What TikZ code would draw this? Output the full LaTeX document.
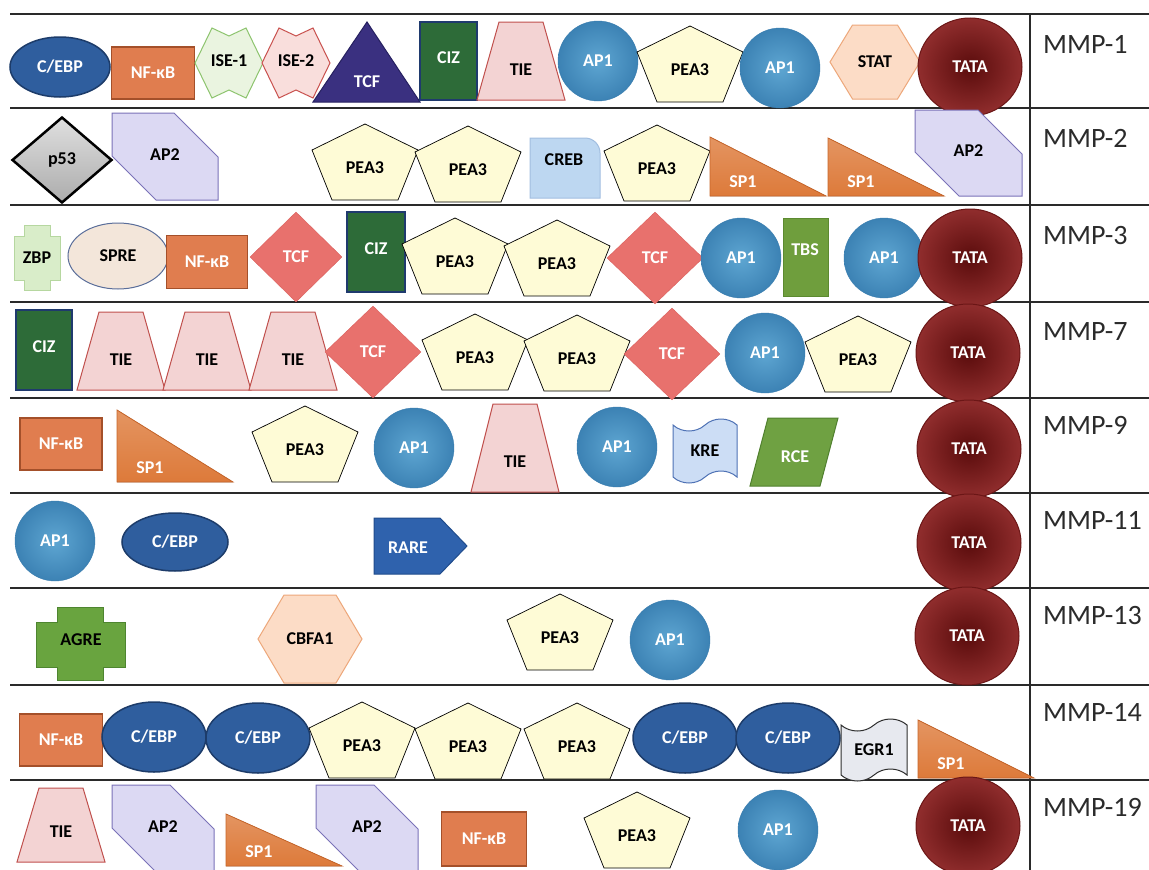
\documentclass[tikz,border=0pt]{standalone}
\usepackage{fontspec}
\setmainfont{Carlito}
\usetikzlibrary{shapes.geometric,shapes.symbols}

\definecolor{rowline}{HTML}{2A2A2A}
\definecolor{mmptext}{HTML}{2B2B2B}
\definecolor{cebpfill}{HTML}{2F5E9E}
\definecolor{cebpline}{HTML}{1D3C6A}
\definecolor{nfkbfill}{HTML}{E07D4F}
\definecolor{nfkbline}{HTML}{A4502A}
\definecolor{iseonefill}{HTML}{EAF4E0}
\definecolor{iseoneline}{HTML}{8DC46E}
\definecolor{isetwofill}{HTML}{F9DEDC}
\definecolor{isetwoline}{HTML}{C9514E}
\definecolor{trifill}{HTML}{3A3080}
\definecolor{triline}{HTML}{262060}
\definecolor{cizfill}{HTML}{2D6B38}
\definecolor{cizline}{HTML}{1F3A6E}
\definecolor{tiefill}{HTML}{F3D3D3}
\definecolor{tieline}{HTML}{C0504D}
\definecolor{aponein}{HTML}{5EA6D2}
\definecolor{aponeout}{HTML}{3C82B4}
\definecolor{aponeline}{HTML}{3A7DAF}
\definecolor{peafill}{HTML}{FEFBD6}
\definecolor{statfill}{HTML}{FCDCC6}
\definecolor{statline}{HTML}{EDA77A}
\definecolor{tatain}{HTML}{5A0C0C}
\definecolor{tataout}{HTML}{902D2D}
\definecolor{tataline}{HTML}{6B1616}
\definecolor{aptfill}{HTML}{DCD9F3}
\definecolor{aptline}{HTML}{7A72B8}
\definecolor{crebfill}{HTML}{BDD7F1}
\definecolor{crebline}{HTML}{A2BEE0}
\definecolor{spfill}{HTML}{DD7A3A}
\definecolor{spline}{HTML}{C8662A}
\definecolor{zbpfill}{HTML}{D9EDC9}
\definecolor{zbpline}{HTML}{B6D7A0}
\definecolor{sprefill}{HTML}{F3E6DA}
\definecolor{spreline}{HTML}{5A6E9A}
\definecolor{tcffill}{HTML}{E8716D}
\definecolor{tcfline}{HTML}{DA5F5C}
\definecolor{tbsfill}{HTML}{6F9E3D}
\definecolor{tbsline}{HTML}{5C8A30}
\definecolor{krefill}{HTML}{CCDDF5}
\definecolor{kreline}{HTML}{4F72B5}
\definecolor{rcefill}{HTML}{6FA142}
\definecolor{rceline}{HTML}{50802E}
\definecolor{rarefill}{HTML}{2F62AD}
\definecolor{rareline}{HTML}{204C8C}
\definecolor{agrefill}{HTML}{69A43F}
\definecolor{agreline}{HTML}{4E8530}
\definecolor{egrfill}{HTML}{E7E9EF}
\definecolor{egrline}{HTML}{2E2E2E}

\tikzset{
 lab/.style={font=\bfseries\fontsize{18}{20}\selectfont, inner sep=0pt},
 wlab/.style={lab, text=white},
 mmp/.style={font=\fontsize{28}{30}\selectfont, anchor=base west, inner sep=0pt, text=mmptext},
 row/.style={line width=1.5pt, draw=rowline},
 cebp/.style={ellipse, minimum width=104pt, minimum height=62pt, fill=cebpfill, draw=cebpline, line width=1.5pt, wlab},
 nfkb/.style={rectangle, minimum width=83pt, minimum height=52pt, fill=nfkbfill, draw=nfkbline, line width=1.5pt, wlab},
 apone/.style={circle, minimum size=80pt, draw=aponeline, inner color=aponein, outer color=aponeout, wlab},
 tata/.style={ellipse, minimum width=104pt, minimum height=98pt, draw=tataline, line width=1pt, inner color=tatain, outer color=tataout, wlab},
 tcf/.style={diamond, minimum width=96pt, minimum height=92pt, fill=tcffill, draw=tcfline, wlab},
 tcftri/.style={fill=trifill, draw=triline, line width=1pt},
 ciz/.style={fill=cizfill, draw=cizline, line width=1.5pt},
 tie/.style={fill=tiefill, draw=tieline, line width=1pt},
 pea/.style={fill=peafill, draw=black, line width=0.7pt},
 stat/.style={fill=statfill, draw=statline, line width=1pt},
 iseone/.style={fill=iseonefill, draw=iseoneline, line width=1pt},
 isetwo/.style={fill=isetwofill, draw=isetwoline, line width=1pt},
 apt/.style={fill=aptfill, draw=aptline, line width=1pt},
 spone/.style={top color=spfill!80!white, bottom color=spfill, draw=spline, line width=0.8pt},
 pfiftythree/.style={diamond, minimum width=100pt, minimum height=86pt, top color=gray!25, bottom color=gray!65, draw=black, line width=2.5pt, lab},
 creb/.style={fill=crebfill, draw=crebline, line width=1pt},
 zbp/.style={fill=zbpfill, draw=zbpline, line width=1pt},
 spre/.style={ellipse, minimum width=100pt, minimum height=66pt, fill=sprefill, draw=spreline, line width=1pt, lab},
 tbs/.style={fill=tbsfill, draw=tbsline, line width=1pt},
 kre/.style={tape, minimum width=64pt, minimum height=64pt, tape bend height=12pt, fill=krefill, draw=kreline, line width=1pt, lab},
 egr/.style={tape, minimum width=66pt, minimum height=62pt, tape bend height=12pt, fill=egrfill, draw=egrline, line width=1pt, lab},
 rce/.style={fill=rcefill, draw=rceline, line width=1pt},
 rare/.style={fill=rarefill, draw=rareline, line width=1pt},
 agre/.style={fill=agrefill, draw=agreline, line width=1pt},
}

% name, centre x, centre y
\newcommand{\peabox}[3]{%
 \filldraw[pea, shift={(#2,#3)}] (0,-38) -- (53,-12) -- (33,38) -- (-33,38) -- (-53,-12) -- cycle;
 \node[lab] (#1) at (#2,#3+6) {PEA3};}
% name, centre x, bottom y, height
\newcommand{\tiebox}[4]{%
 \filldraw[tie, shift={(#2,#3)}] (-44,0) -- (-22,-#4) -- (22,-#4) -- (44,0) -- cycle;
 \node[lab] (#1) at (#2,#3-30) {TIE};}
% name, left x, bottom y, height
\newcommand{\spbox}[4]{%
 \filldraw[spone, shift={(#2,#3)}] (0,0) -- (0,-#4) -- (116,0) -- cycle;
 \node[wlab] (#1) at (#2+33,#3-14) {SP1};}
% name, x1, y1, x2, y2
\newcommand{\aptbox}[5]{%
 \filldraw[apt] (#2,#3) -- (#4-44,#3) -- (#4,#3+44) -- (#4,#5) -- (#2+44,#5) -- (#2,#5-44) -- cycle;
 \node[lab] (#1) at ({(#2+#4)/2},{(#3+#5)/2-2}) {AP2};}
\newcommand{\cizbox}[5]{%
 \filldraw[ciz] (#2,#3) rectangle (#4,#5);
 \node[wlab] (#1) at ({(#2+#4)/2},{#3+0.46*(#5-#3)}) {CIZ};}
% name, centre x, centre y, half width, half height, text
\newcommand{\hexbox}[6]{%
 \filldraw[stat, shift={(#2,#3)}] (-#4,0) -- (-#4/2,-#5) -- (#4/2,-#5) -- (#4,0) -- (#4/2,#5) -- (-#4/2,#5) -- cycle;
 \node[lab] (#1) at (#2,#3) {#6};}
% name, centre x, centre y, style, text
\newcommand{\isebox}[5]{%
 \filldraw[#4, shift={(#2,#3)}] (-34,0) -- (-17,-35) -- (0,-27) -- (17,-35) -- (34,0) -- (17,35) -- (0,27) -- (-17,35) -- cycle;
 \node[lab] (#1) at (#2,#3-2) {#5};}

\begin{document}
\begin{tikzpicture}[x=1pt,y=-1pt]
\useasboundingbox (0,0) rectangle (1149,870);
\fill[white] (0,0) rectangle (1149,870);

% table rules
\foreach \y in {14,108,205,302,398,493,588,685,780}
 \draw[row] (10,\y) -- (1149,\y);
\draw[row] (1030,14) -- (1030,870);

% MMP-1
\node[cebp, minimum width=100pt, minimum height=60pt] (cebpA) at (60,67) {C/EBP};
\node[nfkb] (nfkbA) at (153,73) {NF-κB};
\isebox{iseA}{229}{63}{iseone}{ISE-1}
\isebox{iseB}{296}{63}{isetwo}{ISE-2}
\filldraw[tcftri] (313,102) -- (367,22) -- (420,102) -- cycle;
\node[wlab] (tcfA) at (367,82) {TCF};
\cizbox{cizA}{420}{22}{477}{100}
\tiebox{tieA}{521}{100}{78}
\node[apone] (apA) at (598,61) {AP1};
\peabox{peaA}{690}{64}
\node[apone] (apB) at (780,68) {AP1};
\hexbox{statA}{875}{62}{45}{37}{STAT}
\node[tata] (tataA) at (970,67) {TATA};
\node[mmp] (mmpA) at (1043,53) {MMP-1};

% MMP-2
\node[pfiftythree] (pA) at (62,160) {p53};
\aptbox{aptA}{112}{113}{218}{200}
\peabox{peaB}{365}{162}
\peabox{peaC}{468}{164}
\filldraw[creb] (530,138) -- (585,138) arc[start angle=-90, end angle=0, radius=15] -- (600,198) -- (530,198) -- cycle;
\node[lab] (crebA) at (564,160) {CREB};
\peabox{peaD}{657}{163}
\spbox{spA}{710}{196}{59}
\spbox{spB}{828}{196}{58}
\aptbox{aptB}{915}{110}{1022}{196}
\node[mmp] (mmpB) at (1043,147) {MMP-2};

% MMP-3
\filldraw[zbp] (24,225) -- (50,225) -- (50,236) -- (60,236) -- (60,280) -- (50,280) -- (50,290) -- (24,290) -- (24,280) -- (14,280) -- (14,236) -- (24,236) -- cycle;
\node[lab] (zbpA) at (37,258) {ZBP};
\node[spre] (spreA) at (118,256) {SPRE};
\node[nfkb, minimum width=81pt, minimum height=53pt] (nfkbB) at (207,262) {NF-κB};
\node[tcf, minimum width=92pt, minimum height=90pt] (tcfB) at (296,257) {TCF};
\cizbox{cizB}{347}{212}{405}{292}
\peabox{peaE}{455}{256}
\peabox{peaF}{557}{258}
\node[tcf] (tcfC) at (655,258) {TCF};
\node[apone] (apC) at (741,258) {AP1};
\filldraw[tbs] (783,218) rectangle (828,296);
\node[wlab] (tbsA) at (805,250) {TBS};
\node[apone] (apD) at (884,258) {AP1};
\node[tata] (tataC) at (970,258) {TATA};
\node[mmp] (mmpC) at (1043,244) {MMP-3};

% MMP-7
\cizbox{cizC}{16}{310}{72}{390}
\tiebox{tieB}{121}{390}{78}
\tiebox{tieC}{207}{390}{78}
\tiebox{tieD}{293}{390}{78}
\node[tcf] (tcfD) at (373,352) {TCF};
\peabox{peaG}{475}{352}
\peabox{peaH}{577}{353}
\node[tcf] (tcfE) at (672,354) {TCF};
\node[apone] (apE) at (765,353) {AP1};
\peabox{peaI}{858}{354}
\node[tata] (tataD) at (968,353) {TATA};
\node[mmp] (mmpD) at (1043,340) {MMP-7};

% MMP-9
\node[nfkb, minimum width=82pt] (nfkbC) at (61,444) {NF-κB};
\spbox{spC}{117}{482}{72}
\peabox{peaJ}{305}{444}
\node[apone] (apF) at (414,448) {AP1};
\tiebox{tieE}{515}{492}{88}
\node[apone] (apG) at (617,447) {AP1};
\node[kre] (kreA) at (705,451) {KRE};
\filldraw[rce] (750,486) -- (768,418) -- (838,418) -- (820,486) -- cycle;
\node[wlab] (rceA) at (795,457) {RCE};
\node[tata] (tataE) at (969,449) {TATA};
\node[mmp] (mmpE) at (1043,434) {MMP-9};

% MMP-11
\node[apone] (apH) at (55,541) {AP1};
\node[cebp, minimum width=106pt, minimum height=58pt] (cebpB) at (175,542) {C/EBP};
\filldraw[rare] (374,518) -- (440,518) -- (467,546) -- (440,574) -- (374,574) -- cycle;
\node[wlab] (rareA) at (408,548) {RARE};
\node[tata] (tataF) at (969,543) {TATA};
\node[mmp] (mmpF) at (1043,529) {MMP-11};

% MMP-13
\filldraw[agre] (57,607) -- (103,607) -- (103,622) -- (125,622) -- (125,667) -- (103,667) -- (103,680) -- (57,680) -- (57,667) -- (36,667) -- (36,622) -- (57,622) -- cycle;
\node[lab] (agreA) at (81,640) {AGRE};
\hexbox{cbfaA}{310}{639}{52}{44}{CBFA1}
\peabox{peaK}{560}{632}
\node[apone] (apI) at (670,640) {AP1};
\node[tata] (tataG) at (967,636) {TATA};
\node[mmp] (mmpG) at (1043,624) {MMP-13};

% MMP-14
\node[nfkb] (nfkbD) at (61,740) {NF-κB};
\node[cebp, minimum height=70pt] (cebpC) at (154,737) {C/EBP};
\node[cebp, minimum height=70pt] (cebpD) at (258,738) {C/EBP};
\peabox{peaL}{362}{740}
\peabox{peaM}{468}{741}
\peabox{peaN}{577}{741}
\node[cebp, minimum height=70pt] (cebpE) at (685,738) {C/EBP};
\node[cebp, minimum height=70pt] (cebpF) at (788,738) {C/EBP};
\node[egr] (egrA) at (874,750) {EGR1};
\spbox{spD}{918}{778}{58}
\node[mmp] (mmpH) at (1043,721) {MMP-14};

% MMP-19
\tiebox{tieF}{61}{862}{74}
\aptbox{aptC}{112}{785}{214}{872}
\spbox{spE}{226}{866}{52}
\aptbox{aptD}{316}{785}{418}{872}
\node[nfkb, minimum width=85pt, minimum height=54pt] (nfkbE) at (484,839) {NF-κB};
\peabox{peaO}{637}{830}
\node[apone] (apJ) at (778,830) {AP1};
\node[tata] (tataH) at (968,826) {TATA};
\node[mmp] (mmpI) at (1043,816) {MMP-19};
\end{tikzpicture}
\end{document}
